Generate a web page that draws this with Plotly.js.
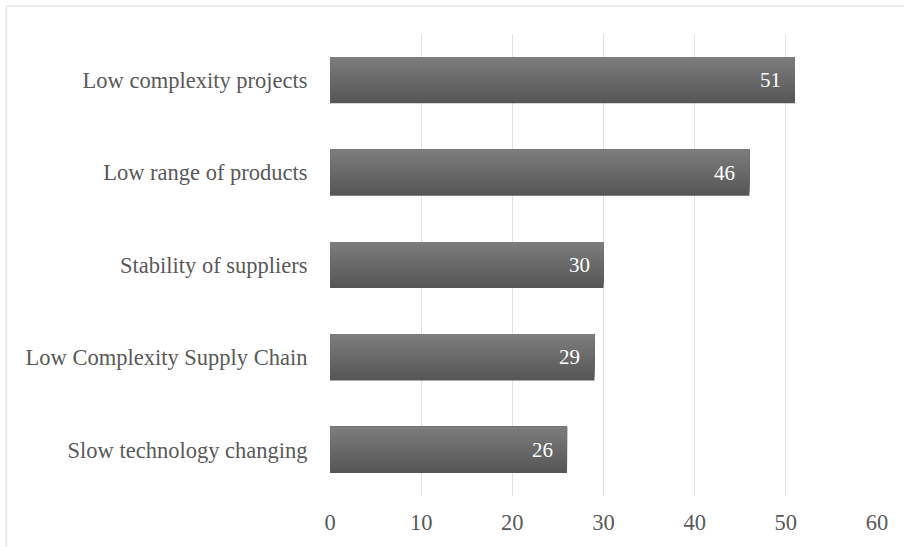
<!DOCTYPE html>
<html><head><meta charset="utf-8">
<script src="https://cdn.plot.ly/plotly-3.0.1.min.js"></script>
<style>body{margin:0;background:#fff}#chart{width:904px;height:547px}</style>
</head><body><div id="chart"></div>
<script>
const categories = ["Slow technology changing","Low Complexity Supply Chain","Stability of suppliers","Low range of products","Low complexity projects"];
const values = [26, 29, 30, 46, 51];
const tickVals = [0,10,20,30,40,50,60];

// vertical gradient on the bars: overlaid copies of the same bars, each starting a bit higher
const N = 16, barW = 0.5;
const traces = [];
for (let k = 0; k < N; k++) {
  const t = k / (N - 1);
  const c = Math.round(0x56 + t * (0x7c - 0x56));
  const start = -barW / 2 + k * barW / N;
  traces.push({
    type: 'bar', orientation: 'h',
    y: categories, x: values,
    width: barW / 2 - start, offset: start,
    marker: {color: `rgb(${c},${c},${c})`, line: {width: 0}},
    hoverinfo: 'none'
  });
}
const annotations = values.map((v, i) => ({
  x: v, y: categories[i], xref: 'x', yref: 'y',
  text: String(v), showarrow: false, xanchor: 'right', xshift: -12,
  font: {family: 'Liberation Serif', size: 21, color: '#ffffff'}
}));
const layout = {
  width: 904, height: 547,
  margin: {l: 330, r: 27, t: 34, b: 51},
  paper_bgcolor: '#fff', plot_bgcolor: '#fff',
  showlegend: false, barmode: 'overlay',
  font: {family: 'Liberation Serif', size: 22.5, color: '#595959'},
  xaxis: {range: [0, 60], tickvals: tickVals, showgrid: true, gridcolor: '#e0e0e0', gridwidth: 1,
          zeroline: false, showline: false, ticks: 'outside', ticklen: 6, tickcolor: 'rgba(0,0,0,0)', fixedrange: true},
  yaxis: {showgrid: false, zeroline: false, showline: false, ticks: 'outside', ticklen: 17, tickcolor: 'rgba(0,0,0,0)', fixedrange: true},
  annotations: annotations,
  shapes: [
    {type: 'rect', xref: 'paper', yref: 'paper', x0: -0.592, x1: 1.1, y0: -0.2, y1: 1.0606,
     line: {color: '#d9d9d9', width: 1}, fillcolor: 'rgba(0,0,0,0)', layer: 'below'}
  ]
};
Plotly.newPlot('chart', traces, layout, {displayModeBar: false, staticPlot: true});
</script></body></html>
